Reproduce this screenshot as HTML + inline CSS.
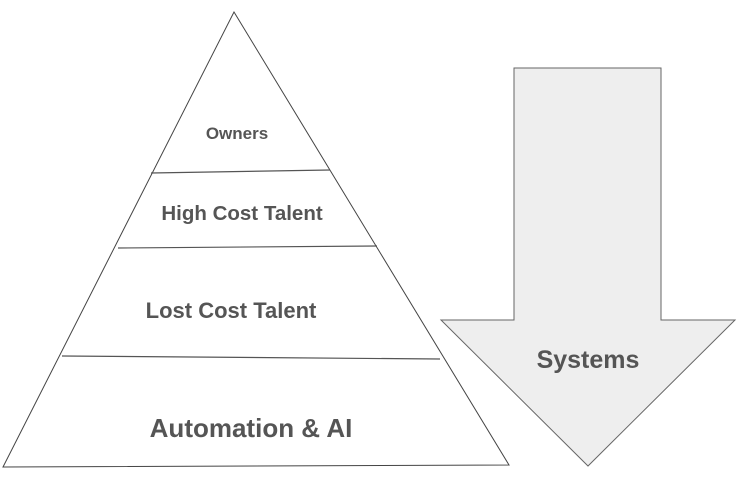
<!DOCTYPE html>
<html><head><meta charset="utf-8"><style>
html,body{margin:0;padding:0;background:#fff;}
svg{display:block;}
text{font-family:"Liberation Sans",Arial,sans-serif;font-weight:bold;fill:#555;}
</style></head><body>
<svg width="746" height="482" viewBox="0 0 746 482" xmlns="http://www.w3.org/2000/svg">
<polygon points="234,12 509,465 3,467" fill="#fff" stroke="#444" stroke-width="1"/>
<line x1="151" y1="173" x2="330" y2="170" stroke="#555" stroke-width="1.2"/>
<line x1="118" y1="248" x2="377" y2="246" stroke="#555" stroke-width="1.2"/>
<line x1="62" y1="356" x2="440" y2="359" stroke="#555" stroke-width="1.2"/>
<polygon points="514,68 661,68 661,320 735,320 588,466 441,320 514,320" fill="#eee" stroke="#666" stroke-width="1"/>
<text x="237" y="139" font-size="17" text-anchor="middle">Owners</text>
<text x="242" y="220" font-size="20.5" text-anchor="middle">High Cost Talent</text>
<text x="231" y="318" font-size="22" text-anchor="middle">Lost Cost Talent</text>
<text x="251" y="437" font-size="26" text-anchor="middle">Automation &amp; AI</text>
<text x="588" y="368" font-size="25" text-anchor="middle">Systems</text>
</svg>
</body></html>
